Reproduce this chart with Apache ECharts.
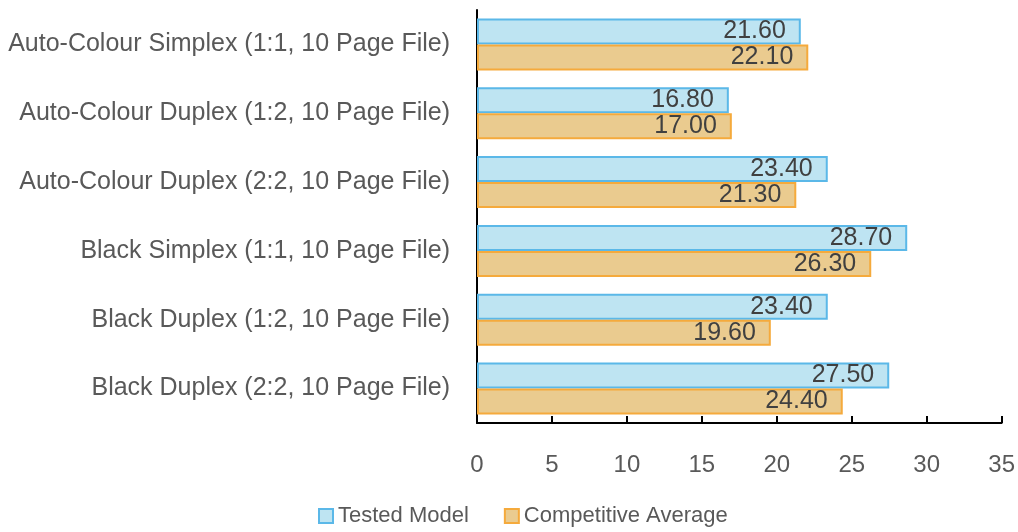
<!DOCTYPE html>
<html>
<head>
<meta charset="utf-8">
<script src="https://cdn.jsdelivr.net/npm/echarts@6/dist/echarts.min.js"></script>
<style>
  html, body { margin: 0; padding: 0; background: #fff; }
  #chart { width: 1018px; height: 532px; }
</style>
</head>
<body>
<div id="chart"></div>
<script>
const categories = [
    'Auto-Colour Simplex (1:1, 10 Page File)',
    'Auto-Colour Duplex (1:2, 10 Page File)',
    'Auto-Colour Duplex (2:2, 10 Page File)',
    'Black Simplex (1:1, 10 Page File)',
    'Black Duplex (1:2, 10 Page File)',
    'Black Duplex (2:2, 10 Page File)'
];
const testedModel = [21.6, 16.8, 23.4, 28.7, 23.4, 27.5];
const competitiveAverage = [22.1, 17.0, 21.3, 26.3, 19.6, 24.4];
const seriesNames = ['Tested Model', 'Competitive Average'];

const FONT = '"Liberation Sans", Arial, sans-serif';

const chart = echarts.init(document.getElementById('chart'), null, { renderer: 'canvas' });

const valueLabel = {
    show: true,
    position: 'insideRight',
    distance: 15,
    color: '#404040',
    fontFamily: FONT,
    fontSize: 25,
    formatter: p => p.value.toFixed(2)
};

chart.setOption({
    animation: false,
    backgroundColor: '#fff',
    grid: { left: 477, right: 15, top: 10, bottom: 109, containLabel: false },
    legend: {
        bottom: 0,
        left: 313,
        icon: 'rect',
        itemWidth: 14,
        itemHeight: 14,
        itemGap: 35,
        textStyle: { color: '#595959', fontFamily: FONT, fontSize: 22 },
        data: seriesNames
    },
    xAxis: {
        type: 'value',
        min: 0, max: 35, interval: 5,
        axisLine: { show: true, lineStyle: { color: '#000', width: 2 } },
        axisTick: { show: true, inside: true, length: 7, lineStyle: { color: '#000', width: 2 } },
        axisLabel: { color: '#595959', fontFamily: FONT, fontSize: 24, margin: 30 },
        splitLine: { show: false }
    },
    yAxis: {
        type: 'category',
        inverse: true,
        data: categories,
        axisLine: { show: true, lineStyle: { color: '#000', width: 2 } },
        axisTick: { show: false },
        axisLabel: { color: '#595959', fontFamily: FONT, fontSize: 25, margin: 27 }
    },
    series: [
        {
            name: seriesNames[0], type: 'bar', data: testedModel,
            barWidth: 26, barGap: '0%',
            itemStyle: { color: '#BEE4F2', borderColor: '#5BB8E8', borderWidth: 2 },
            label: valueLabel
        },
        {
            name: seriesNames[1], type: 'bar', data: competitiveAverage,
            barWidth: 26, barGap: '0%',
            itemStyle: { color: '#EACB8F', borderColor: '#F5AA3C', borderWidth: 2 },
            label: valueLabel
        }
    ]
});
</script>
</body>
</html>
